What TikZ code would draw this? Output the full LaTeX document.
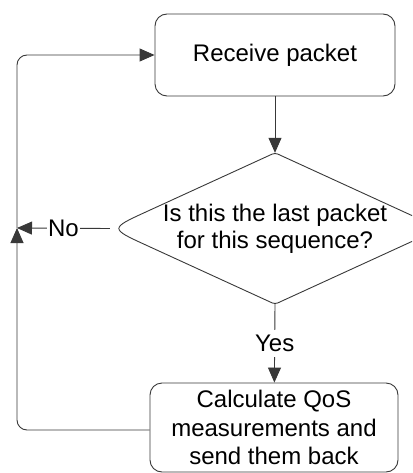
\documentclass[tikz,border=0pt]{standalone}
\usepackage{fontspec}
\setmainfont{Liberation Sans}
\usetikzlibrary{arrows.meta,shapes.geometric,calc}
\begin{document}
\begin{tikzpicture}[x=1pt,y=-1pt,
  lc/.style={draw=black!78, line width=0.9pt},
  procbox/.style={lc, rectangle, rounded corners=12pt, align=center, inner sep=0pt, font=\fontsize{24}{28.5}\selectfont},
  decision/.style={diamond, draw=none, minimum width=330pt, minimum height=151pt, inner sep=0pt},
  qtext/.style={align=center, inner sep=0pt, font=\fontsize{24}{27}\selectfont},
  conn/.style={lc, -{Triangle[length=15pt,width=13pt]}},
  lbl/.style={fill=white, inner xsep=1.5pt, inner ysep=5.5pt, font=\fontsize{24}{28}\selectfont}
]
\useasboundingbox (0,0) rectangle (412,473);
\clip (0,0) rectangle (412,473);

\node[procbox, minimum width=240pt, minimum height=82pt] (recv) at (275,55) {Receive packet};
\node[decision] (dia) at (275,228.5) {};
\draw[lc] ($(dia.west)!40pt!(dia.north)$) .. controls (dia.west) .. ($(dia.west)!40pt!(dia.south)$)
  [rounded corners=3pt] -- (dia.south) -- (dia.east) -- (dia.north) -- ($(dia.west)!40pt!(dia.north)$);
\node[qtext] (q) at (dia.center) {Is this the last packet\\for this sequence?};
\node[procbox, minimum width=248pt, minimum height=89pt] (qos) at (274,427.5) {Calculate QoS\\measurements and\\send them back};

\coordinate (j) at (17,228);
\draw[conn] (recv) -- (dia.north);
\draw[conn] (dia.south) -- node[lbl] (yes) {Yes} (qos);
\draw[conn] (dia.west) -- node[lbl] (no) {No} (j);
\draw[conn, rounded corners=10pt] ([yshift=-2.5pt]qos.west) -| (j);
\draw[conn, rounded corners=10pt] (j) |- (recv.west);
\end{tikzpicture}
\end{document}
